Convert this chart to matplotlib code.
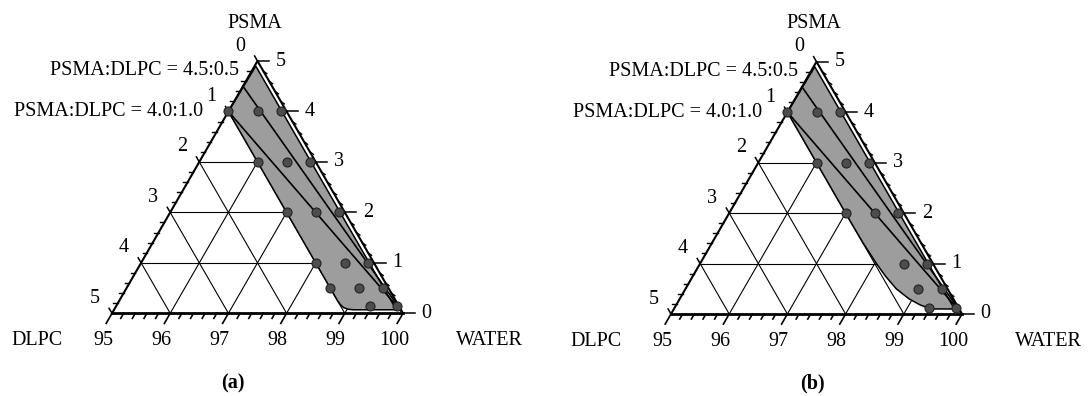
import numpy as np
import matplotlib
matplotlib.use('Agg')
import matplotlib.pyplot as plt

plt.rcParams['font.family'] = ['Liberation Serif', 'DejaVu Serif']

# Composiciones medidas (% PSMA, % DLPC); el resto es agua
psma_a = [4, 4, 4, 3, 3, 3, 2, 2, 2, 1, 1, 1, 0.5, 0.5, 0.5, 0.15, 0.15]
dlpc_a = [1.0, 0.5, 0.1, 1.0, 0.5, 0.1, 1.0, 0.5, 0.1, 1.0, 0.5, 0.1, 1.0, 0.5, 0.1, 0.5, 0.03]
psma_b = [4, 4, 4, 3, 3, 3, 2, 2, 2, 1, 1, 0.5, 0.5, 0.12, 0.12]
dlpc_b = [1.0, 0.5, 0.1, 1.0, 0.5, 0.1, 1.0, 0.5, 0.1, 0.5, 0.1, 0.5, 0.1, 0.5, 0.05]

# Borde de la region sombreada
region_a_psma = [4.0, 4.9, 0.07, 0.07, 0.08, 0.11, 0.17, 0.25]
region_a_dlpc = [1.0, 0.08, 0.08, 0.82, 0.90, 0.96, 0.99, 1.0]
region_b_psma = [4.0, 4.9, 0.10, 0.10, 0.12, 0.18, 0.30, 0.50, 0.75, 1.0, 1.4, 1.8]
region_b_dlpc = [1.0, 0.08, 0.08, 0.45, 0.52, 0.63, 0.76, 0.88, 0.94, 0.97, 0.995, 1.0]

# Lineas de dilucion PSMA:DLPC hacia el vertice del agua
ratio_psma = [4.5, 4.0]
ratio_dlpc = [0.5, 1.0]
ratio_labels = ['PSMA:DLPC = 4.5:0.5', 'PSMA:DLPC = 4.0:1.0']

water_ticks = [95, 96, 97, 98, 99, 100]
side_ticks = [0, 1, 2, 3, 4, 5]

W, H = 1088, 396
SX, SY = 58.2, 50.46  # pixeles por unidad
FS = 14.5


def tern(psma, dlpc):
    p = np.asarray(psma, dtype=float)
    d = np.asarray(dlpc, dtype=float)
    return 5 - d - p / 2, p


def label(ax, s, xy, dx, dy, ha='center', va='center', **kw):
    ax.annotate(s, xy=xy, xytext=(dx, -dy), textcoords='offset pixels',
                ha=ha, va=va, fontsize=FS, **kw)


def panel(left_px, x0, y0, psma, dlpc, reg_p, reg_d):
    ax = fig.add_axes([left_px / W, 0, 544 / W, 1])
    ax.set_xlim((left_px - x0) / SX, (left_px + 544 - x0) / SX)
    ax.set_ylim((y0 - H) / SY, y0 / SY)
    ax.axis('off')

    # Rejilla
    for k in range(1, 5):
        ax.plot([k / 2, 5 - k / 2], [k, k], color='black', lw=0.8, zorder=1)
        ax.plot([k / 2, k], [k, 0], color='black', lw=0.8, zorder=1)
        ax.plot([k, k + (5 - k) / 2], [0, 5 - k], color='black', lw=0.8, zorder=1)

    # Region sombreada
    xr, yr = tern(reg_p, reg_d)
    ax.fill(xr, yr, facecolor='#9d9d9d', edgecolor='black', lw=1.1, zorder=2)

    # Lineas de dilucion
    for p, d in zip(ratio_psma, ratio_dlpc):
        xs, ys = tern([p, 0], [d, 0])
        ax.plot(xs, ys, color='black', lw=1.2, zorder=3)

    # Bordes del triangulo
    ax.plot([0, 2.5, 5], [0, 5, 0], color='black', lw=1.5, zorder=3)
    ax.plot([0, 5], [0, 0], color='black', lw=2.0, zorder=3)

    # Marcas
    for v in np.arange(0, 5.01, 0.2):
        major = abs(v - round(v)) < 1e-6
        # eje inferior (agua)
        t = 0.2 if major else 0.1
        ax.plot([v, v - 0.5 * t], [0, -t], color='black', lw=1.2, zorder=3)
        # eje izquierdo (DLPC), punto a PSMA = v
        if major:
            ax.plot([v / 2, v / 2 - 0.05], [v, v + 0.1], color='black', lw=1.1, zorder=3)
        else:
            ax.plot([v / 2, v / 2 - 0.075], [v, v], color='black', lw=1.0, zorder=3)
        # eje derecho (PSMA)
        xe = 5 - v / 2
        if major:
            ax.plot([xe, xe + 0.2], [v, v], color='black', lw=1.1, zorder=3)
        else:
            ax.plot([xe, xe + 0.06], [v, v - 0.05], color='black', lw=1.0, zorder=3)

    # Puntos
    xp, yp = tern(psma, dlpc)
    ax.plot(xp, yp, 'o', ms=6.5, mfc='#4d4d4d', mec='#222222', mew=0.8, zorder=4)

    # Etiquetas de los ejes
    for i, w in enumerate(water_ticks):
        label(ax, str(w), (i, 0), -9, 27)
    for i, s in enumerate(side_ticks):
        label(ax, str(s), ((5 - s) / 2, 5 - s), -17, -15)
        label(ax, str(s), (5 - s / 2, s), 23, 0)
    label(ax, 'PSMA', (2.5, 5), -3, -38)
    label(ax, 'DLPC', (0, 0), -75, 27)
    label(ax, 'WATER', (5, 0), 86, 27)

    xs, ys = tern(ratio_psma, ratio_dlpc)
    label(ax, ratio_labels[0], (xs[0], ys[0]), -4, -15.5, ha='right')
    label(ax, ratio_labels[1], (xs[1], ys[1]), -25, 0, ha='right')
    return ax


fig = plt.figure(figsize=(W / 100, H / 100), dpi=100)
panel(0, 112.0, 313.3, psma_a, dlpc_a, region_a_psma, region_a_dlpc)
panel(544, 671.0, 314.0, psma_b, dlpc_b, region_b_psma, region_b_dlpc)
fig.text(233 / W, 1 - 383 / H, '(a)', ha='center', va='center', fontsize=FS, fontweight='bold')
fig.text(812 / W, 1 - 383 / H, '(b)', ha='center', va='center', fontsize=FS, fontweight='bold')
fig.savefig('out.png', dpi=100)
